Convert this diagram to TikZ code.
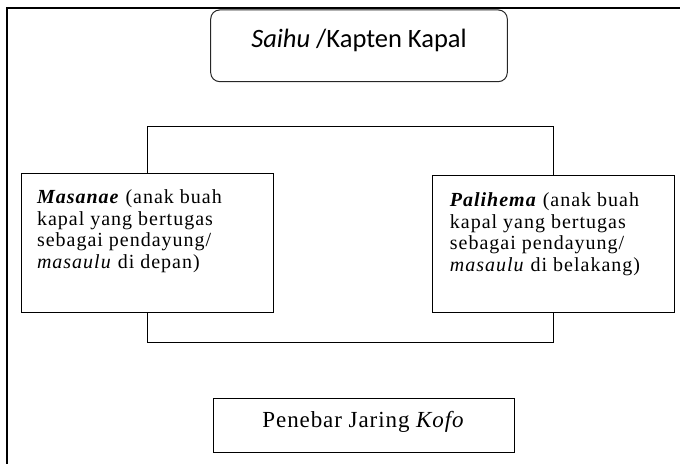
\documentclass[tikz,border=0pt]{standalone}
\usepackage{fontspec}
\setmainfont{Liberation Serif}
\newfontfamily\boxfont[LetterSpace=5]{Liberation Serif}
\newfontfamily\kofofont[LetterSpace=4]{Liberation Serif}
\newfontfamily\capfont{Carlito}
\begin{document}
\begin{tikzpicture}[x=1pt,y=-1pt,
  frameline/.style={line width=2pt, black},
  conn/.style={line width=1pt, black},
  capbox/.style={draw=black!85, line width=1pt, rounded corners=9pt, minimum width=296.6pt, minimum height=71.7pt, inner sep=0pt, font=\capfont\fontsize{26.5}{30}\selectfont},
  textbox/.style={draw=black, line width=1pt, inner sep=16pt, font=\boxfont\fontsize{20}{21.6}\selectfont},
  kofobox/.style={draw=black, line width=1pt, minimum width=301pt, minimum height=54pt, inner sep=0pt, font=\kofofont\fontsize{23}{26}\selectfont}]
\useasboundingbox (0,0) rectangle (680,464);
% outer frame (partial)
\coordinate (frTR) at (680,7.5);
\coordinate (frTL) at (6.5,7.5);
\coordinate (frBL) at (6.5,464);
\draw[frameline] (frTR) -- (frTL) -- (frBL);
% nodes
\node[capbox] (saihu) at (359,45.8) {\raisebox{5pt}[\height][\depth]{\textit{Saihu} /Kapten Kapal}};
\node[textbox] (mas) at (147,243.3) {\parbox[c][107pt][t]{220pt}{\raggedright\textbf{\textit{Masanae}} (anak buah\\kapal yang bertugas\\sebagai pendayung/\\\textit{masaulu} di depan)}};
\node[textbox, inner xsep=17pt, inner ysep=17pt] (pal) at (553.9,244.2) {\parbox[c][103pt][t]{208pt}{\raggedright\textbf{\textit{Palihema}} (anak buah\\kapal yang bertugas\\sebagai pendayung/\\\textit{masaulu} di belakang)}};
\node[kofobox] (kofo) at (363.5,425) {\raisebox{3pt}[\height][\depth]{Penebar Jaring \textit{Kofo}}};
% connectors
\coordinate (topy) at (0,126);
\coordinate (boty) at (0,342);
\draw[conn] (mas.north) -- (mas.north |- topy) -- (pal.north |- topy) -- (pal.north);
\draw[conn] (mas.south) -- (mas.south |- boty) -- (pal.south |- boty) -- (pal.south);
\end{tikzpicture}
\end{document}
